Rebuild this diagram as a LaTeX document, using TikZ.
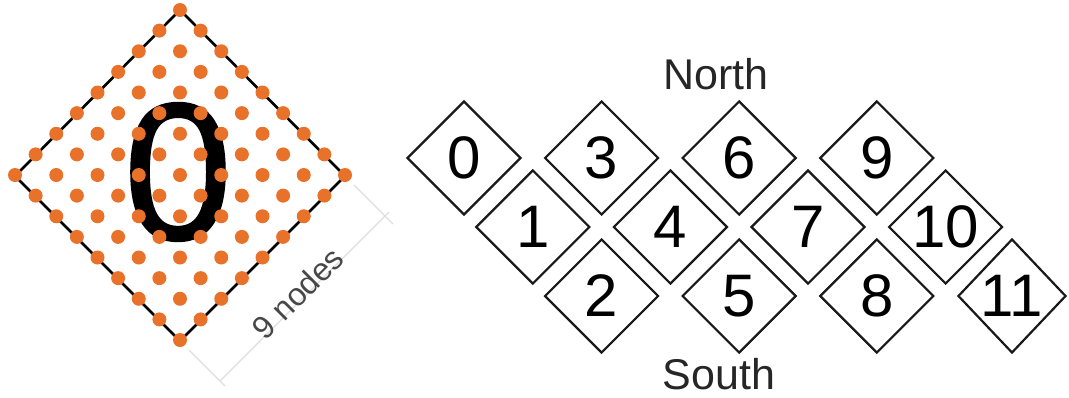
\documentclass[tikz,border=0pt]{standalone}
\usepackage{fontspec}
\setmainfont{Liberation Sans}
\usetikzlibrary{shapes.geometric}
\definecolor{dotorange}{HTML}{E8722A}
\begin{document}
\begin{tikzpicture}[x=1pt, y=-1pt,
    cell/.style={diamond, aspect=1, draw=black!90, line width=2.2pt, minimum width=114pt, minimum height=114pt, inner sep=0pt, font=\fontsize{60}{60}\selectfont},
    compass/.style={font=\fontsize{43}{43}\selectfont, text=black!85, inner sep=0pt},
    dimline/.style={black!13, line width=1.3pt}]
  \useasboundingbox (0,0) rectangle (1069,397);
  \coordinate (gtop) at (180,10);
  \coordinate (gright) at (345,176);
  \coordinate (gbottom) at (180,341);
  \coordinate (gleft) at (15,176);
  \draw[dimline] ([shift={(9,9)}]gright) -- ([shift={(48,48)}]gright);
  \draw[dimline] ([shift={(9,9)}]gbottom) -- ([shift={(45,45)}]gbottom);
  \draw[dimline] ([shift={(40,40)}]gbottom) -- ([shift={(44,36)}]gright);
  \draw[black, line width=2.6pt] (gtop) -- (gright) -- (gbottom) -- (gleft) -- cycle;
  \node[inner sep=0pt, draw=none, font=\fontsize{195}{195}\selectfont] (bigzero) at (178,172) {\addfontfeature{FakeBold=1.2}0};
  \foreach \i in {0,...,8}
    \foreach \j in {0,...,8}
      \fill[dotorange] ({180+20.625*(\i-\j)},{10+20.625*(\i+\j)}) circle (7);
  \node[rotate=45, inner sep=0pt, text=black!72, font=\fontsize{32}{32}\selectfont] (span) at (298,293) {9 nodes};
  \foreach \n/\c/\r in {0/0/0, 1/1/1, 2/2/2, 3/2/0, 4/3/1, 5/4/2, 6/4/0, 7/5/1, 8/6/2, 9/6/0, 10/7/1}
    \node[cell] (d\n) at ({464+68.8*\c},{158+69*\r}) {\n};
  \node[cell, minimum width=108pt, minimum height=114pt] (d11) at (1012,296) {11};
  \node[compass] (north) at (716,74) {North};
  \node[compass] (south) at (719,374) {South};
\end{tikzpicture}
\end{document}
